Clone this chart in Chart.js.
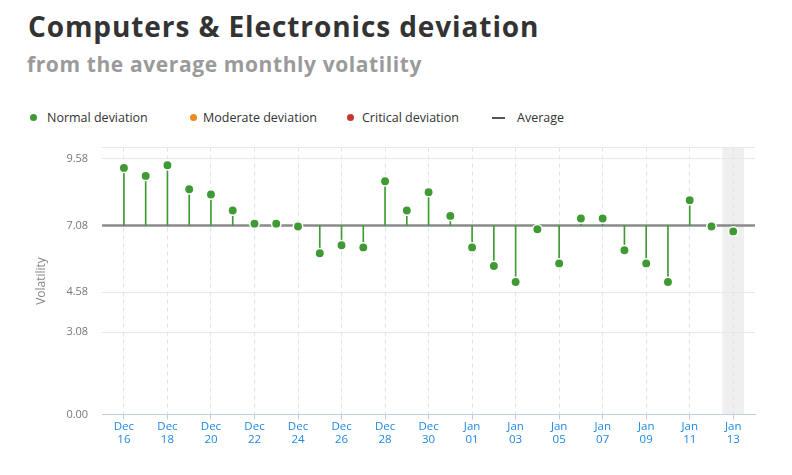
<!DOCTYPE html>
<html lang="en">
<head>
<meta charset="UTF-8">
<title>Computers &amp; Electronics deviation</title>
<script src="https://cdn.jsdelivr.net/npm/chart.js"></script>
<style>
  body { margin: 0; background: #fff; font-family: "Open Sans", "Noto Sans", sans-serif; }
  .title { position: absolute; left: 28px; top: 7px; font-size: 28px; font-weight: 700; letter-spacing: 0.9px; color: #333; white-space: nowrap; }
  .subtitle { position: absolute; left: 27px; top: 50px; font-size: 21px; font-weight: 700; letter-spacing: 0.6px; color: #9a9a9a; white-space: nowrap; }
  .legend span { position: absolute; top: 109px; font-size: 12.5px; color: #333; white-space: nowrap; }
  .legend i { position: absolute; top: 114px; width: 7px; height: 7px; border-radius: 50%; }
  .legend b { position: absolute; top: 117px; width: 13px; height: 2px; background: #555; }
  #wrap { position: absolute; left: 0; top: 127px; width: 792px; height: 348px; }
</style>
</head>
<body>
<div class="title">Computers &amp; Electronics deviation</div>
<div class="subtitle">from the average monthly volatility</div>
<div class="legend">
  <i style="left:30px;background:#3f9a34"></i><span style="left:47px">Normal deviation</span>
  <i style="left:190px;background:#ef8a22"></i><span style="left:203px">Moderate deviation</span>
  <i style="left:347px;background:#c8372f"></i><span style="left:362px">Critical deviation</span>
  <b style="left:492px"></b><span style="left:517px">Average</span>
</div>
<div id="wrap"><canvas id="chart"></canvas></div>
<script>
// one category per day, with an empty day on each side
const days = ['Dec 15', 'Dec 16', 'Dec 17', 'Dec 18', 'Dec 19', 'Dec 20', 'Dec 21', 'Dec 22', 'Dec 23', 'Dec 24',
  'Dec 25', 'Dec 26', 'Dec 27', 'Dec 28', 'Dec 29', 'Dec 30', 'Dec 31', 'Jan 01', 'Jan 02', 'Jan 03',
  'Jan 04', 'Jan 05', 'Jan 06', 'Jan 07', 'Jan 08', 'Jan 09', 'Jan 10', 'Jan 11', 'Jan 12', 'Jan 13', 'Jan 14'];
const volatility = [null, 9.24, 8.94, 9.34, 8.44, 8.24, 7.64, 7.15, 7.15, 7.04,
  6.04, 6.34, 6.26, 8.74, 7.64, 8.33, 7.44, 6.26, 5.56, 4.96,
  6.94, 5.66, 7.34, 7.34, 6.15, 5.66, 4.96, 8.03, 7.04, 6.86, null];
const average = 7.08;
const yTicks = [0, 3.08, 4.58, 7.08, 9.58];
const yMax = 10;
const highlightDay = 'Jan 13';

const green = '#3f9a34';

const highlightPlugin = {
  id: 'highlight',
  beforeDraw(chart) {
    const x = chart.scales.x, area = chart.chartArea, c = chart.ctx;
    const i = days.indexOf(highlightDay);
    const half = (x.getPixelForValue(1) - x.getPixelForValue(0)) / 2;
    const px = x.getPixelForValue(i);
    c.save();
    c.fillStyle = '#efefef';
    c.fillRect(px - half, area.top, half * 2, area.bottom - area.top);
    c.restore();
  }
};

new Chart(document.getElementById('chart'), {
  data: {
    labels: days,
    datasets: [
      {
        type: 'line',
        label: 'Average',
        data: days.map(() => average),
        borderColor: '#8a8a8a',
        borderWidth: 2.5,
        pointRadius: 0,
        order: 3
      },
      {
        type: 'bar',
        label: 'stems',
        data: volatility.map(v => v == null ? null : [average, v]),
        backgroundColor: green,
        barThickness: 1,
        order: 2
      },
      {
        type: 'line',
        label: 'Normal deviation',
        data: volatility,
        showLine: false,
        pointRadius: 4.7,
        pointBackgroundColor: green,
        pointBorderColor: '#fff',
        pointBorderWidth: 1.5,
        order: 1
      }
    ]
  },
  options: {
    responsive: true,
    maintainAspectRatio: false,
    animation: false,
    layout: { padding: { left: 34, right: 37, top: 4, bottom: 28 } },
    plugins: { legend: { display: false }, tooltip: { enabled: false } },
    scales: {
      x: {
        offset: false,
        grid: {
          offset: false,
          color: c => c.index % 2 === 1 ? '#e3e3e3' : 'rgba(0,0,0,0)',
          tickColor: c => c.index % 2 === 1 ? '#c3cce0' : 'rgba(0,0,0,0)',
          tickLength: 5
        },
        border: { color: '#c3cce0', dash: [4, 4] },
        ticks: {
          autoSkip: false,
          maxRotation: 0,
          padding: 0,
          color: '#1e88e5',
          font: { family: '"Open Sans", sans-serif', size: 11.5 },
          callback: (v, i) => i % 2 === 1 ? days[i].split(' ') : ''
        }
      },
      y: {
        min: 0,
        max: yMax,
        afterBuildTicks: axis => { axis.ticks = yTicks.concat([yMax]).map(v => ({ value: v })); },
        grid: { color: '#e8e8e8', drawTicks: false },
        border: { display: false },
        ticks: {
          padding: 14,
          color: '#777',
          font: { family: '"Open Sans", sans-serif', size: 11 },
          callback: v => v === yMax ? '' : v.toFixed(2)
        },
        title: {
          display: true,
          text: 'Volatility',
          color: '#888',
          font: { family: '"Open Sans", sans-serif', size: 12 },
          padding: { top: 0, bottom: 4 }
        }
      }
    }
  },
  plugins: [highlightPlugin]
});
</script>
</body>
</html>
